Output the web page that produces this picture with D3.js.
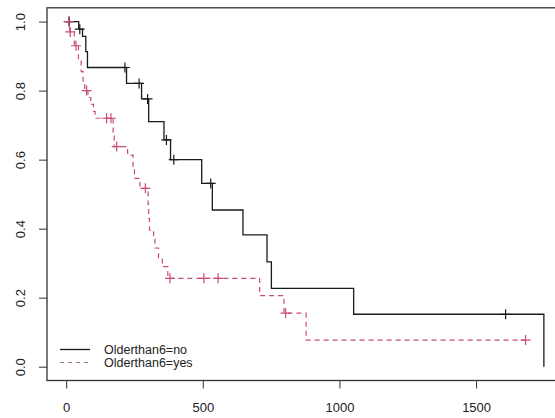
<!DOCTYPE html>
<html>
<head>
<meta charset="utf-8">
<script src="https://cdn.jsdelivr.net/npm/d3@7"></script>
<style>
  html, body { margin: 0; padding: 0; background: #fff; }
  svg { display: block; }
  text { font-family: "Liberation Sans", Arial, sans-serif; }
</style>
</head>
<body>
<svg id="chart" width="555" height="418"></svg>
<script>
// ---- Data ----
const groupNames = ["Olderthan6=no", "Olderthan6=yes"];

// Group "no": step times and survival after each step
const noTimes = [0, 46, 60, 72, 78, 221, 276, 302, 358, 382, 496, 535, 647, 735, 751, 1052, 1748];
const noSurv  = [1, 0.978, 0.957, 0.913, 0.867, 0.821, 0.776, 0.71, 0.657, 0.60, 0.531, 0.454, 0.382, 0.304, 0.227, 0.152, 0];
const noCensor = [11, 50, 215, 267, 298, 367, 394, 529, 1608];

// Group "yes"
const yesTimes = [0, 13, 30, 45, 55, 62, 68, 80, 90, 100, 106, 172, 176, 225, 245, 250, 270, 300, 302, 305, 320, 325, 338, 352, 372, 708, 797, 878];
const yesSurv  = [1, 0.970, 0.930, 0.890, 0.855, 0.82, 0.80, 0.78, 0.76, 0.74, 0.72, 0.68, 0.638, 0.613, 0.58, 0.546, 0.517, 0.47, 0.43, 0.396, 0.37, 0.344, 0.315, 0.29, 0.256, 0.206, 0.155, 0.077];
const yesCensor = [9, 15, 36, 75, 148, 164, 185, 290, 380, 504, 556, 803, 1681];
const yesEnd = 1681;

const xTicks = [0, 500, 1000, 1500];
const yTicks = [0, 0.2, 0.4, 0.6, 0.8, 1.0];

// ---- Drawing ----
const svg = d3.select("#chart");
const colNo = "#1a1a1a";
const colYes = "#c94a7c";
const axisCol = "#333";

const x = d3.scaleLinear().domain([-70, 1818]).range([47, 563]);
const y = d3.scaleLinear().domain([-0.04, 1.04]).range([380.5, 7.8]);

svg.append("rect").attr("width", 555).attr("height", 418).attr("fill", "#fff");

function stepPoints(times, surv, endTime) {
  const pts = [];
  for (let i = 0; i < times.length; i++) {
    if (i > 0) pts.push([times[i], surv[i - 1]]);
    pts.push([times[i], surv[i]]);
  }
  if (endTime !== undefined && endTime > times[times.length - 1]) pts.push([endTime, surv[surv.length - 1]]);
  return pts;
}
function survAt(times, surv, t) {
  let s = 1;
  for (let i = 0; i < times.length; i++) if (times[i] <= t) s = surv[i];
  return s;
}

const line = d3.line().x(d => x(d[0])).y(d => y(d[1]));

// curves
svg.append("path")
  .attr("d", line(stepPoints(noTimes, noSurv)))
  .attr("fill", "none").attr("stroke", colNo).attr("stroke-width", 1.3);

svg.append("path")
  .attr("d", line(stepPoints(yesTimes, yesSurv, yesEnd)))
  .attr("fill", "none").attr("stroke", colYes).attr("stroke-width", 1.2)
  .attr("stroke-dasharray", "5,4");

// censor marks
function plus(cx, cy, r) {
  return `M${cx - r},${cy}H${cx + r}M${cx},${cy - r}V${cy + r}`;
}
svg.append("g").selectAll("path").data(noCensor).join("path")
  .attr("d", t => plus(x(t), y(survAt(noTimes, noSurv, t)), 5))
  .attr("stroke", colNo).attr("stroke-width", 1.2).attr("fill", "none");
svg.append("g").selectAll("path").data(yesCensor).join("path")
  .attr("d", t => plus(x(t), y(survAt(yesTimes, yesSurv, t)), 5))
  .attr("stroke", colYes).attr("stroke-width", 1.2).attr("fill", "none");

// box
svg.append("rect")
  .attr("x", x.range()[0]).attr("y", y.range()[1])
  .attr("width", x.range()[1] - x.range()[0]).attr("height", y.range()[0] - y.range()[1])
  .attr("fill", "none").attr("stroke", axisCol).attr("stroke-width", 1.3);

// axes
const xAxis = svg.append("g").attr("transform", `translate(0,${y.range()[0]})`)
  .call(d3.axisBottom(x).tickValues(xTicks).tickSize(8).tickPadding(14).tickFormat(d3.format("d")));
xAxis.select(".domain").remove();
xAxis.selectAll("line").attr("stroke", axisCol);
xAxis.selectAll("text").attr("fill", "#222").style("font-size", "13px").style("font-family", "Liberation Sans, Arial, sans-serif");

const yAxis = svg.append("g").attr("transform", `translate(${x.range()[0]},0)`)
  .call(d3.axisLeft(y).tickValues(yTicks).tickSize(8).tickFormat(d3.format(".1f")));
yAxis.select(".domain").remove();
yAxis.selectAll("line").attr("stroke", axisCol);
yAxis.selectAll("text")
  .attr("x", 0).attr("y", -22).attr("dy", 0)
  .attr("transform", "rotate(-90)")
  .attr("text-anchor", "middle")
  .attr("fill", "#222").style("font-size", "13px").style("font-family", "Liberation Sans, Arial, sans-serif");

// legend
const legend = svg.append("g");
const legY = [349.5, 362.5];
const legStyles = [
  { stroke: colNo, dash: null, w: 1.3 },
  { stroke: "#a07080", dash: "4,4", w: 1.1 }
];
groupNames.forEach((name, i) => {
  legend.append("line")
    .attr("x1", 60).attr("x2", 90).attr("y1", legY[i]).attr("y2", legY[i])
    .attr("stroke", legStyles[i].stroke).attr("stroke-width", legStyles[i].w)
    .attr("stroke-dasharray", legStyles[i].dash);
  legend.append("text")
    .attr("x", 104).attr("y", legY[i] + 4.4)
    .attr("fill", "#222").style("font-size", "12.5px")
    .text(name);
});
</script>
</body>
</html>
